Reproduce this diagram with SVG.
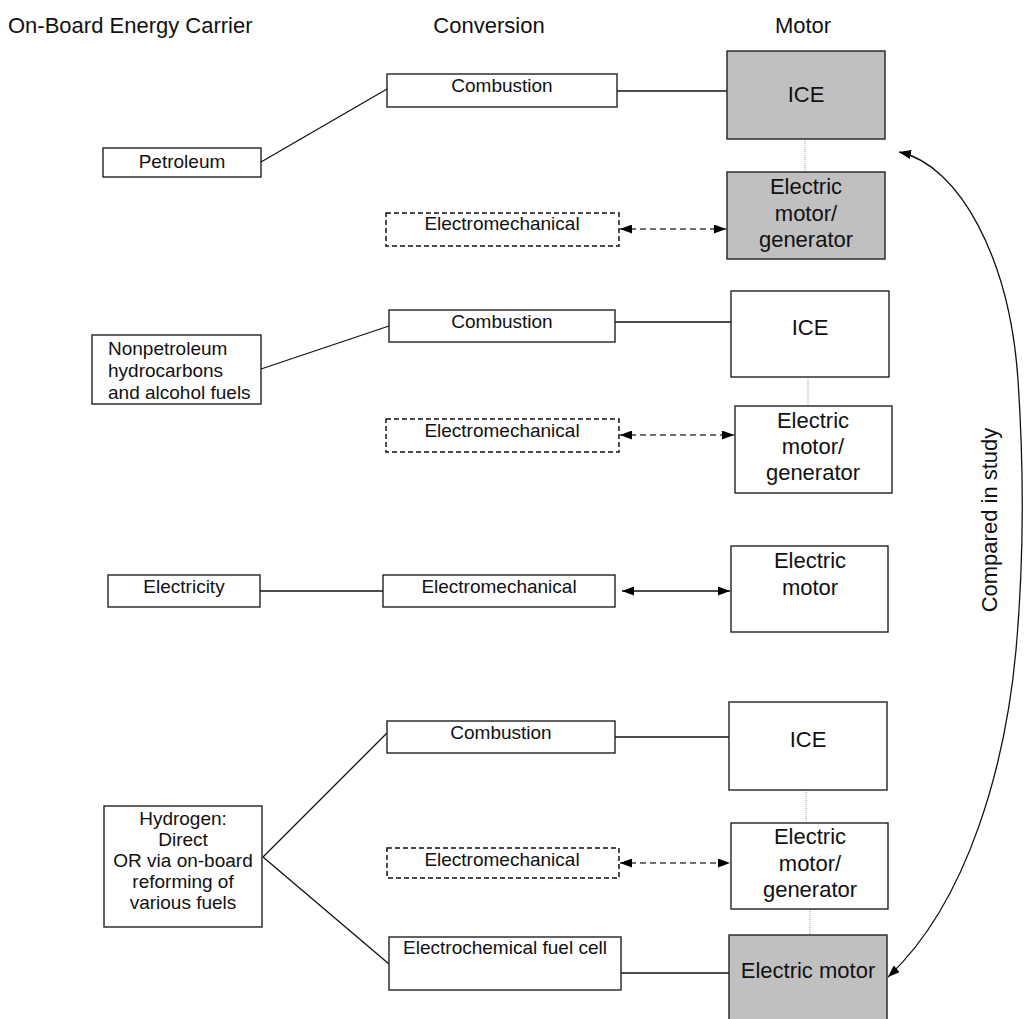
<svg xmlns="http://www.w3.org/2000/svg" width="1024" height="1019" viewBox="0 0 1024 1019">
<style>
text{font-family:"Liberation Sans",Arial,sans-serif;fill:#111}
.hd{font-size:22px}
.lb{font-size:19px;text-anchor:middle}
.lbl{font-size:19px;text-anchor:start}
.mt{font-size:22px;text-anchor:middle}
.box{fill:#fff;stroke:#222;stroke-width:1.4}
.gray{fill:#c0c0c0;stroke:#222;stroke-width:1.4}
.dbox{fill:#fff;stroke:#111;stroke-width:1.5;stroke-dasharray:5,3}
.ln{fill:none;stroke:#111;stroke-width:1.3}
.dash{fill:none;stroke:#444;stroke-width:1.3;stroke-dasharray:6,4}
.dot{fill:none;stroke:#999;stroke-width:1;stroke-dasharray:1,1}
</style>
<defs>
<marker id="ah" viewBox="0 0 12 9" refX="12" refY="4.5" markerWidth="12" markerHeight="9" markerUnits="userSpaceOnUse" orient="auto-start-reverse">
<path d="M0,0 L12,4.5 L0,9 z" fill="#000"/>
</marker>
</defs>
<rect width="1024" height="1019" fill="#fff"/>

<g id="headers">
<text class="hd" x="8" y="33">On-Board Energy Carrier</text>
<text class="hd" x="489" y="33" style="text-anchor:middle">Conversion</text>
<text class="hd" x="803" y="33" style="text-anchor:middle">Motor</text>
</g>

<g id="connectors">
<line class="ln" x1="261" y1="162" x2="387" y2="89"/>
<line class="ln" x1="617" y1="91" x2="738" y2="91"/>
<line class="dot" x1="805" y1="139" x2="805" y2="172"/>
<line class="dash" x1="620" y1="229" x2="726" y2="229" marker-start="url(#ah)" marker-end="url(#ah)"/>

<line class="ln" x1="261" y1="369" x2="389" y2="326"/>
<line class="ln" x1="615" y1="322" x2="736" y2="322"/>
<line class="dot" x1="808" y1="377" x2="808" y2="406"/>
<line class="dash" x1="620" y1="435" x2="734" y2="435" marker-start="url(#ah)" marker-end="url(#ah)"/>

<line class="ln" x1="260" y1="591" x2="383" y2="591"/>
<line class="ln" x1="622" y1="591" x2="730" y2="591" marker-start="url(#ah)" marker-end="url(#ah)"/>

<line class="ln" x1="263" y1="857" x2="387" y2="733"/>
<line class="ln" x1="263" y1="857" x2="389" y2="964"/>
<line class="ln" x1="615" y1="737" x2="731" y2="737"/>
<line class="dot" x1="806" y1="790" x2="806" y2="823"/>
<line class="dash" x1="620" y1="863" x2="730" y2="863" marker-start="url(#ah)" marker-end="url(#ah)"/>
<line class="dot" x1="810" y1="909" x2="810" y2="935"/>
<line class="ln" x1="621" y1="973" x2="729" y2="973"/>

<path class="ln" d="M899 152 C960 165 1010 260 1018 380 C1024 470 1024 560 1016 650 C1006 760 970 900 888 977" marker-start="url(#ah)" marker-end="url(#ah)"/>
</g>

<g id="petroleum">
<rect class="box" x="103" y="148" width="158" height="29"/>
<text class="lb" x="182" y="168">Petroleum</text>
</g>
<g id="combustion1">
<rect class="box" x="387" y="74" width="230" height="33"/>
<text class="lb" x="502" y="92">Combustion</text>
</g>
<g id="ice1">
<rect class="gray" x="727" y="51" width="158" height="88"/>
<text class="mt" x="806" y="102">ICE</text>
</g>
<g id="electromech1">
<rect class="dbox" x="386" y="213" width="233" height="33"/>
<text class="lb" x="502" y="230">Electromechanical</text>
</g>
<g id="motorgen1">
<rect class="gray" x="727" y="172" width="158" height="87"/>
<text class="mt" x="806" y="194">Electric</text>
<text class="mt" x="806" y="221">motor/</text>
<text class="mt" x="806" y="247">generator</text>
</g>

<g id="nonpetroleum">
<rect class="box" x="92" y="335" width="169" height="69"/>
<text class="lbl" x="108" y="355">Nonpetroleum</text>
<text class="lbl" x="108" y="377">hydrocarbons</text>
<text class="lbl" x="108" y="399">and alcohol fuels</text>
</g>
<g id="combustion2">
<rect class="box" x="389" y="310" width="226" height="32"/>
<text class="lb" x="502" y="328">Combustion</text>
</g>
<g id="ice2">
<rect class="box" x="731" y="291" width="158" height="86"/>
<text class="mt" x="810" y="335">ICE</text>
</g>
<g id="electromech2">
<rect class="dbox" x="386" y="419" width="233" height="33"/>
<text class="lb" x="502" y="437">Electromechanical</text>
</g>
<g id="motorgen2">
<rect class="box" x="735" y="406" width="157" height="87"/>
<text class="mt" x="813" y="428">Electric</text>
<text class="mt" x="813" y="454">motor/</text>
<text class="mt" x="813" y="480">generator</text>
</g>

<g id="electricity">
<rect class="box" x="108" y="575" width="152" height="32"/>
<text class="lb" x="184" y="593">Electricity</text>
</g>
<g id="electromech3">
<rect class="box" x="383" y="575" width="232" height="32"/>
<text class="lb" x="499" y="593">Electromechanical</text>
</g>
<g id="electricmotor1">
<rect class="box" x="731" y="546" width="157" height="86"/>
<text class="mt" x="810" y="568">Electric</text>
<text class="mt" x="810" y="595">motor</text>
</g>

<g id="hydrogen">
<rect class="box" x="104" y="806" width="158" height="121"/>
<text class="lb" x="183" y="825">Hydrogen:</text>
<text class="lb" x="183" y="846">Direct</text>
<text class="lb" x="183" y="867">OR via on-board</text>
<text class="lb" x="183" y="888">reforming of</text>
<text class="lb" x="183" y="909">various fuels</text>
</g>
<g id="combustion3">
<rect class="box" x="387" y="721" width="228" height="32"/>
<text class="lb" x="501" y="739">Combustion</text>
</g>
<g id="ice3">
<rect class="box" x="729" y="702" width="158" height="88"/>
<text class="mt" x="808" y="747">ICE</text>
</g>
<g id="electromech4">
<rect class="dbox" x="387" y="848" width="232" height="30"/>
<text class="lb" x="502" y="866">Electromechanical</text>
</g>
<g id="motorgen3">
<rect class="box" x="731" y="823" width="157" height="86"/>
<text class="mt" x="810" y="844">Electric</text>
<text class="mt" x="810" y="871">motor/</text>
<text class="mt" x="810" y="897">generator</text>
</g>
<g id="fuelcell">
<rect class="box" x="389" y="937" width="232" height="53"/>
<text class="lb" x="505" y="954">Electrochemical fuel cell</text>
</g>
<g id="electricmotor2">
<rect class="gray" x="729" y="935" width="158" height="90"/>
<text class="mt" x="808" y="978">Electric motor</text>
</g>

<g id="label">
<text class="hd" transform="translate(997,520) rotate(-90)" style="text-anchor:middle">Compared in study</text>
</g>
</svg>
